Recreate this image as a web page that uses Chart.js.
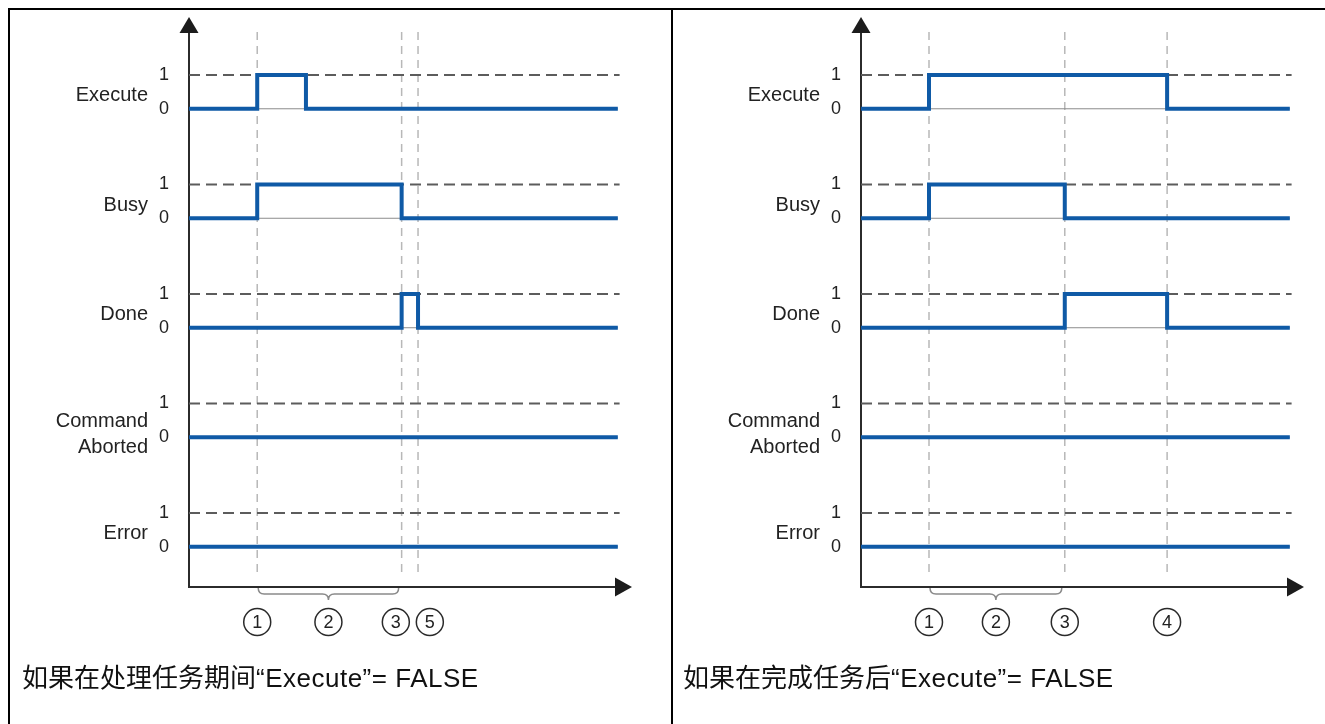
<!DOCTYPE html>
<html><head><meta charset="utf-8">
<script src="https://cdn.jsdelivr.net/npm/chart.js@4.4.0/dist/chart.umd.min.js"></script>
<style>
html,body{margin:0;padding:0;background:#fff;width:1325px;height:724px;overflow:hidden;}
#frame{position:absolute;left:8px;top:8px;width:1330px;height:730px;border-top:2px solid #000;border-left:2px solid #000;}
#divider{position:absolute;left:671px;top:8px;width:2px;height:720px;background:#000;}
canvas{position:absolute;}
.cap{position:absolute;font-family:"Liberation Sans",Arial,"Noto Sans CJK SC",sans-serif;font-size:26px;line-height:26px;color:#111;white-space:nowrap;}
.cap .lat{letter-spacing:0.5px;}
</style></head>
<body>
<div id="frame"></div><div id="divider"></div>
<canvas id="left" width="661" height="714" style="left:10px;top:10px;width:661px;height:714px"></canvas>
<canvas id="right" width="643" height="714" style="left:682px;top:10px;width:643px;height:714px"></canvas>
<div class="cap" id="capL" style="left:22px;top:665px"></div>
<div class="cap" id="capR" style="left:683px;top:665px"></div>
<script>
// ---- shared labels ----
const signalNames = [['Execute'], ['Busy'], ['Done'], ['Command', 'Aborted'], ['Error']];
const levelLabels = ['0', '1'];

// ---- left panel: Execute = FALSE while the job is processing ----
const leftTimes    = [0, 15.4, 26.4, 48.0, 51.7, 96.8];
const leftExecute  = [0, 1, 0, 0, 0, 0];
const leftBusy     = [0, 1, 1, 0, 0, 0];
const leftDone     = [0, 0, 0, 1, 0, 0];
const leftAborted  = [0, 0, 0, 0, 0, 0];
const leftError    = [0, 0, 0, 0, 0, 0];
const leftMarkerTimes  = [15.4, 48.0, 51.7];
const leftMarkerLabels = ['1', '3', '5'];
const leftBracketTimes = [15.4, 48.0];
const leftBracketLabel = '2';
const leftCaptionCn = '如果在处理任务期间';
const leftCaptionEn = '“Execute”= FALSE';

// ---- right panel: Execute = FALSE after the job has completed ----
const rightTimes    = [0, 15.35, 46.0, 69.1, 96.8];
const rightExecute  = [0, 1, 1, 0, 0];
const rightBusy     = [0, 1, 0, 0, 0];
const rightDone     = [0, 0, 1, 0, 0];
const rightAborted  = [0, 0, 0, 0, 0];
const rightError    = [0, 0, 0, 0, 0];
const rightMarkerTimes  = [15.35, 46.0, 69.1];
const rightMarkerLabels = ['1', '3', '4'];
const rightBracketTimes = [15.35, 46.0];
const rightBracketLabel = '2';
const rightCaptionCn = '如果在完成任务后';
const rightCaptionEn = '“Execute”= FALSE';

// ---- geometry of value axes (units) ----
const SPACING = 3.24;          // distance between signal baselines
const Y_MAX = 2.716, Y_MIN = -14.152;
const MARK_TOP = 2.27, MARK_BOTTOM = -13.83;
const REF_END = 97.2;          // end of the dashed "1" reference lines
const BLUE = '#0f5aa6';
const FONT = '"Liberation Sans", Arial, sans-serif';

function setCaption(id, cn, en) {
  const el = document.getElementById(id);
  el.appendChild(document.createTextNode(cn));
  const s = document.createElement('span'); s.className = 'lat'; s.textContent = en;
  el.appendChild(s);
}
setCaption('capL', leftCaptionCn, leftCaptionEn);
setCaption('capR', rightCaptionCn, rightCaptionEn);

function buildDatasets(times, signals, markers) {
  const ds = [];
  signals.forEach((levels, i) => {
    const base = -i * SPACING;
    ds.push({ data: times.map((t, k) => ({ x: t, y: base + levels[k] })), stepped: true,
      borderColor: BLUE, borderWidth: 4, borderCapStyle: 'butt', borderJoinStyle: 'miter', order: 0 });
    ds.push({ data: [{ x: 0, y: base + 1 }, { x: REF_END, y: base + 1 }],
      borderColor: '#5c5c5c', borderWidth: 2, borderDash: [11, 6], order: 2 });
    ds.push({ data: [{ x: 0, y: base }, { x: times[times.length - 1], y: base }],
      borderColor: '#8c8c8c', borderWidth: 1, order: 3 });
  });
  markers.forEach(t => ds.push({ data: [{ x: t, y: MARK_TOP }, { x: t, y: MARK_BOTTOM }],
    borderColor: '#b8b8b8', borderWidth: 1.5, borderDash: [8, 6], order: 4 }));
  return ds;
}

const levelTicks = [];
signalNames.forEach((n, i) => { levelTicks.push(-i * SPACING + 1, -i * SPACING); });
const nameTicks = signalNames.map((n, i) => -i * SPACING + (n.length > 1 ? 0.08 : 0.38));

const timingPlugin = {
  id: 'timing',
  beforeDatasetsDraw(chart) {
    const { ctx, chartArea: a } = chart;
    ctx.save();
    ctx.strokeStyle = '#2b2b2b'; ctx.fillStyle = '#1c1c1c'; ctx.lineWidth = 2;
    ctx.beginPath();
    ctx.moveTo(a.left, a.bottom); ctx.lineTo(a.left, a.top + 15);
    ctx.moveTo(a.left - 1, a.bottom); ctx.lineTo(a.right - 16, a.bottom);
    ctx.stroke();
    ctx.beginPath(); ctx.moveTo(a.left, a.top); ctx.lineTo(a.left - 9.5, a.top + 16); ctx.lineTo(a.left + 9.5, a.top + 16); ctx.closePath(); ctx.fill();
    ctx.beginPath(); ctx.moveTo(a.right, a.bottom); ctx.lineTo(a.right - 17, a.bottom - 9.5); ctx.lineTo(a.right - 17, a.bottom + 9.5); ctx.closePath(); ctx.fill();
    ctx.restore();
  },
  afterDraw(chart, args, opts) {
    const { ctx, chartArea: a, scales: { x } } = chart;
    ctx.save();
    // bracket
    const x1 = x.getPixelForValue(opts.bracket[0]) + 1, x2 = x.getPixelForValue(opts.bracket[1]) - 3;
    const mid = (x1 + x2) / 2, t = a.bottom + 1, m = a.bottom + 7, b = a.bottom + 13;
    ctx.strokeStyle = '#8a8a8a'; ctx.lineWidth = 1.5;
    ctx.beginPath();
    ctx.moveTo(x1, t); ctx.quadraticCurveTo(x1, m, x1 + 6, m); ctx.lineTo(mid - 6, m);
    ctx.quadraticCurveTo(mid, m, mid, b); ctx.quadraticCurveTo(mid, m, mid + 6, m);
    ctx.lineTo(x2 - 6, m); ctx.quadraticCurveTo(x2, m, x2, t);
    ctx.stroke();
    // circled numbers
    const items = opts.markers.map((tv, i) => ({ cx: x.getPixelForValue(tv), label: opts.labels[i] }));
    for (let i = 1; i < items.length; i++) {
      if (items[i].cx - items[i - 1].cx < 32) {
        const c = (items[i].cx + items[i - 1].cx) / 2 + 3;
        items[i - 1].cx = c - 17; items[i].cx = c + 17;
      }
    }
    items.push({ cx: mid, label: opts.bracketLabel });
    const cy = a.bottom + 35;
    ctx.strokeStyle = '#2a2a2a'; ctx.fillStyle = '#222'; ctx.lineWidth = 1.5;
    ctx.font = '18px ' + FONT; ctx.textAlign = 'center'; ctx.textBaseline = 'middle';
    items.forEach(it => {
      ctx.beginPath(); ctx.arc(it.cx, cy, 13.5, 0, Math.PI * 2); ctx.stroke();
      ctx.fillText(it.label, it.cx, cy + 1);
    });
    ctx.restore();
  }
};

function fixAxis(width) {
  return s => { s.width = width; s.paddingTop = 0; s.paddingBottom = 0; };
}

function makeChart(id, times, signals, markers, labels, bracket, bracketLabel, padRight) {
  new Chart(document.getElementById(id), {
    type: 'line',
    data: { datasets: buildDatasets(times, signals, markers) },
    plugins: [timingPlugin],
    options: {
      responsive: false, animation: false, events: [],
      layout: { padding: { left: 0, right: padRight, top: 7, bottom: 137 } },
      elements: { point: { radius: 0 }, line: { tension: 0, fill: false } },
      plugins: { legend: { display: false }, tooltip: { enabled: false },
        timing: { markers, labels, bracket, bracketLabel } },
      scales: {
        x: { type: 'linear', min: 0, max: 100, display: false },
        y: { type: 'linear', position: 'left', min: Y_MIN, max: Y_MAX, weight: 0,
          grid: { display: false, drawTicks: false }, border: { display: false },
          afterBuildTicks: s => { s.ticks = levelTicks.map(v => ({ value: v })); },
          afterFit: fixAxis(40),
          ticks: { autoSkip: false, padding: 20, color: '#222', font: { family: FONT, size: 18 },
            callback: (v, i) => levelLabels[1 - (i % 2)] } },
        yNames: { type: 'linear', position: 'left', min: Y_MIN, max: Y_MAX, weight: 1,
          grid: { display: false, drawTicks: false }, border: { display: false },
          afterBuildTicks: s => { s.ticks = nameTicks.map(v => ({ value: v })); },
          afterFit: fixAxis(139),
          ticks: { autoSkip: false, padding: 1, color: '#222', font: { family: FONT, size: 20, lineHeight: 1.3 },
            callback: (v, i) => signalNames[i] } }
      }
    }
  });
}

makeChart('left', leftTimes, [leftExecute, leftBusy, leftDone, leftAborted, leftError],
  leftMarkerTimes, leftMarkerLabels, leftBracketTimes, leftBracketLabel, 39);
makeChart('right', rightTimes, [rightExecute, rightBusy, rightDone, rightAborted, rightError],
  rightMarkerTimes, rightMarkerLabels, rightBracketTimes, rightBracketLabel, 21);
</script>
</body></html>
